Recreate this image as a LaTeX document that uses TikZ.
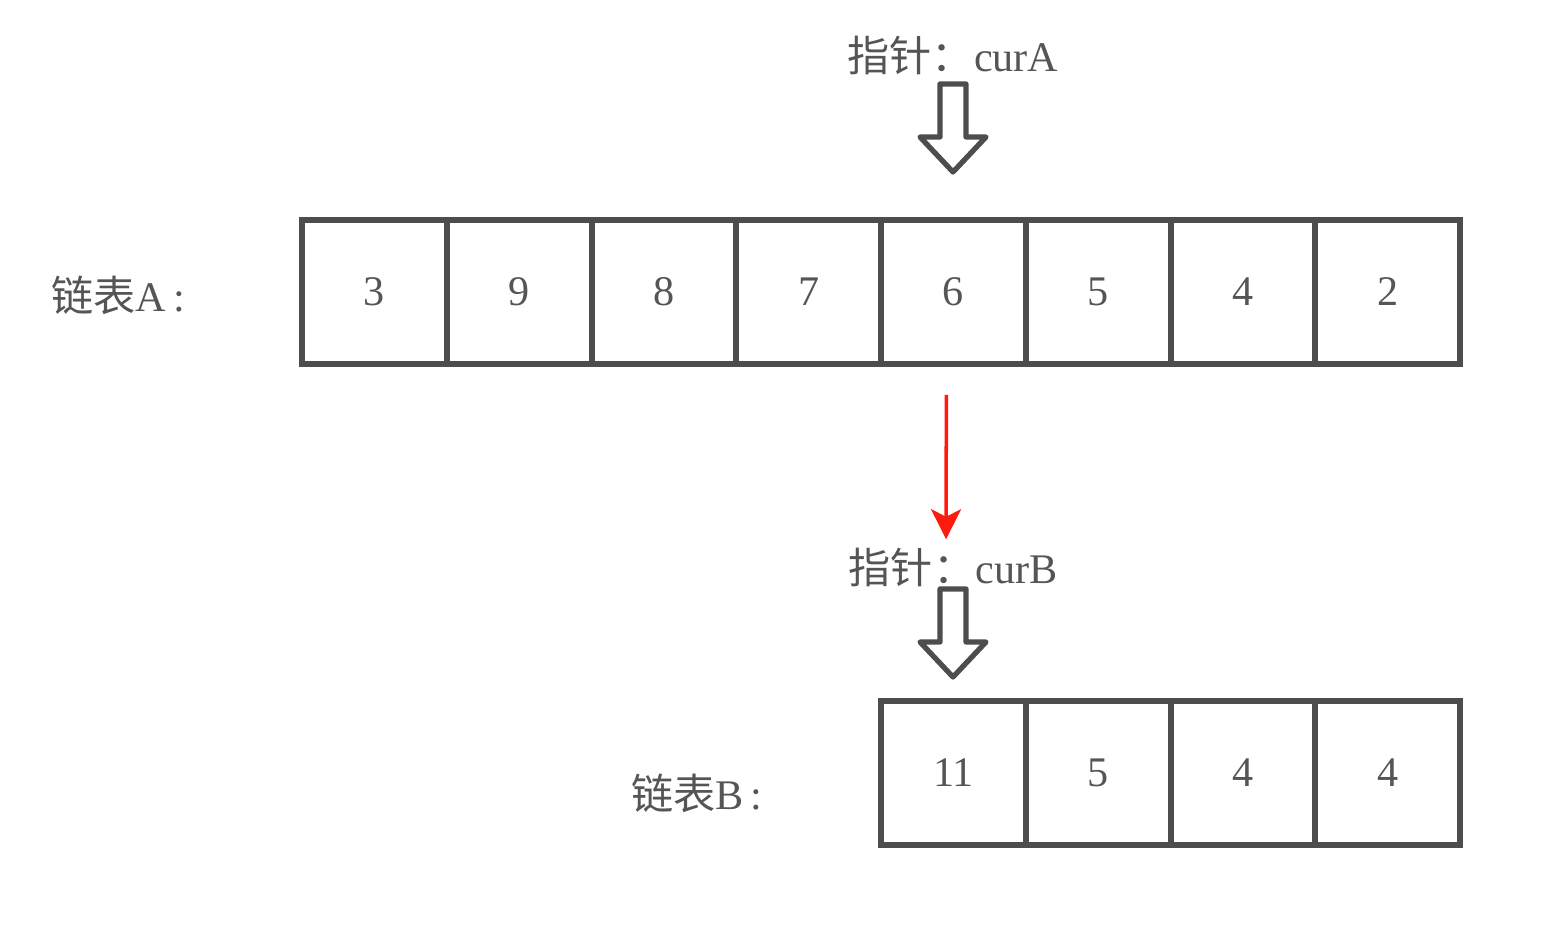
\documentclass[tikz,border=0pt]{standalone}
\usepackage{fontspec}
\setmainfont{Liberation Serif}
\newfontfamily\cjk{Noto Sans CJK SC}
\usetikzlibrary{positioning,arrows.meta,calc}
\definecolor{boxgray}{HTML}{4D4D4D}
\definecolor{textgray}{HTML}{555555}
\definecolor{ptrred}{HTML}{FF1A10}
\tikzset{
    every node/.style={font=\fontsize{24}{28}\selectfont,text=textgray},
    cell/.style={draw=boxgray,line width=3.4pt,minimum width=2.895cm,minimum height=2.88cm,inner sep=0pt},
    listlabel/.style={inner sep=0pt},
    ptrlabel/.style={inner sep=0pt},
    hollowarrow/.pic={
        \draw[boxgray,line width=3pt,line join=round,fill=white]
            (-13,-88) -- (13,-88) -- (13,-35) -- (33,-35) -- (0,0)
            -- (-33,-35) -- (-13,-35) -- cycle;
    },
    redarrow/.style={draw=ptrred,line width=2pt,-{Stealth[length=6mm,width=6mm,inset=1.5mm]}}
}
\begin{document}
\begin{tikzpicture}[x=0.02cm,y=-0.02cm]
\useasboundingbox (0,0) rectangle (1547,945);
% list A
\foreach \v [count=\i] in {3,9,8,7,6,5,4,2}
    \node[cell] (a\i) at ({302+144.75*(\i-0.5)},292) {\v};
\node[listlabel] (la) at (118,295) {{\cjk 链表}A\,:};
% list B
\foreach \v [count=\i] in {11,5,4,4}
    \node[cell] (b\i) at ({881+144.75*(\i-0.5)},773) {\v};
\node[listlabel] (lb) at (697,793) {{\cjk 链表}B\,:};
% pointers
\node[ptrlabel] (pa) at (953,55) {{\cjk 指针：}curA};
\node[ptrlabel] (pb) at (953,567) {{\cjk 指针：}curB};
\pic at (953,172) {hollowarrow};
\pic at (953,677) {hollowarrow};
\coordinate (redstart) at ($(a5.south)+(-7,28)$);
\coordinate (redend) at ($(pb.north)+(-7,-8)$);
\draw[redarrow] (redstart) -- (redend);
\end{tikzpicture}
\end{document}
